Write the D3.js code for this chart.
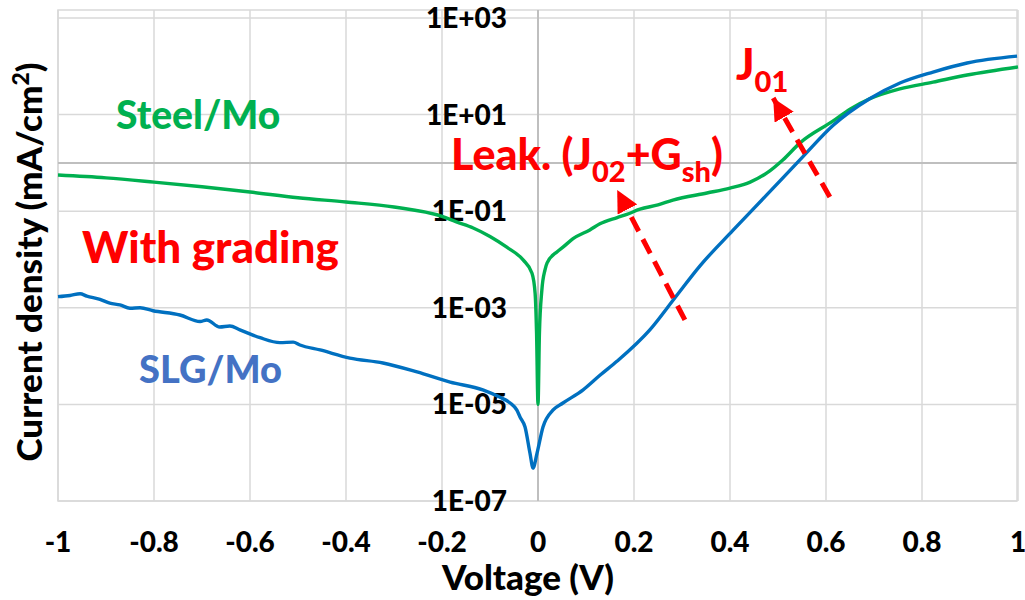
<!DOCTYPE html>
<html>
<head>
<meta charset="utf-8">
<script src="https://cdn.jsdelivr.net/npm/d3@7"></script>
<style>
  html, body { margin: 0; padding: 0; background: #fff; }
  svg { display: block; font-family: Lato, "Open Sans", sans-serif; font-weight: 900; }
</style>
</head>
<body>
<svg id="chart" width="1025" height="600"></svg>
<script>
// Dark J–V curves (log |J|) for the two substrates
const steelV = [-1, -0.9, -0.8, -0.7, -0.6, -0.5, -0.4, -0.3, -0.2, -0.17, -0.135, -0.1, -0.065, -0.031, -0.0125, -0.006, -0.003, 0,
  0.003, 0.008, 0.0146, 0.019, 0.04, 0.052, 0.073, 0.108, 0.129, 0.165, 0.185, 0.2125, 0.25, 0.281, 0.352, 0.4, 0.442, 0.477, 0.51, 0.546, 0.615, 0.65, 0.69, 0.754, 0.823, 0.894, 1.0];
const steelJ = [0.56, 0.49, 0.40, 0.32, 0.25, 0.19, 0.155, 0.122, 0.078, 0.060, 0.045, 0.030, 0.018, 0.0098, 0.0052, 0.002, 3e-4, 1e-5,
  3e-4, 0.0023, 0.0061, 0.0085, 0.0145, 0.018, 0.027, 0.041, 0.055, 0.074, 0.086, 0.11, 0.135, 0.17, 0.238, 0.30, 0.40, 0.62, 1.15, 2.6, 7.4, 13, 21, 34, 47, 66, 97];

const slgV = [-1, -0.975, -0.954, -0.94, -0.9125, -0.892, -0.871, -0.85, -0.829, -0.802, -0.746, -0.704, -0.69, -0.663, -0.642, -0.621,
  -0.579, -0.5375, -0.51, -0.496, -0.454, -0.392, -0.323, -0.252, -0.183, -0.115, -0.079, -0.058, -0.044, -0.0375, -0.027, -0.0167,
  -0.0104, -0.002, 0.0104, 0.031, 0.052, 0.094, 0.129, 0.165, 0.233, 0.285, 0.3375, 0.406, 0.477, 0.552, 0.615, 0.69, 0.754, 0.823, 0.894, 0.998];
const slgJ = [1.7e-3, 1.8e-3, 1.95e-3, 1.75e-3, 1.5e-3, 1.25e-3, 1.15e-3, 9.8e-4, 1.0e-3, 8.7e-4, 7.1e-4, 5.2e-4, 5.6e-4, 4.0e-4, 4.2e-4, 3.5e-4,
  2.4e-4, 1.9e-4, 1.95e-4, 1.7e-4, 1.34e-4, 9.1e-5, 7.2e-5, 4.7e-5, 2.9e-5, 2.0e-5, 1.4e-5, 1.07e-5, 7.6e-6, 5.5e-6, 3.4e-6, 9.8e-7,
  4.8e-7, 9.8e-7, 3.4e-6, 7.6e-6, 1.07e-5, 2.0e-5, 4.0e-5, 7.9e-5, 3.5e-4, 1.6e-3, 7.4e-3, 0.040, 0.22, 1.35, 6.0, 21, 45, 76, 117, 162];

const xTicks = [-1, -0.8, -0.6, -0.4, -0.2, 0, 0.2, 0.4, 0.6, 0.8, 1];
const yTicks = [1e3, 1e1, 1e-1, 1e-3, 1e-5, 1e-7];
const yTickLabels = ["1E+03", "1E+01", "1E-01", "1E-03", "1E-05", "1E-07"];

const svg = d3.select("#chart");
const x = d3.scaleLinear().domain([-1, 1]).range([58, 1018]);
const y = d3.scaleLog().domain([1e-7, 1e3]).range([501, 18]);

const GRID = "#d9d9d9", AXIS = "#bfbfbf";
const GREEN = "#00b050", BLUE = "#0070c0", RED = "#ff0000";

// plot frame
svg.append("rect")
  .attr("x", x(-1)).attr("y", 10)
  .attr("width", x(1) - x(-1) - 1).attr("height", y(1e-7) - 10)
  .attr("fill", "none").attr("stroke", GRID).attr("stroke-width", 1.5);

// gridlines
svg.append("g").selectAll("line").data(xTicks).join("line")
  .attr("x1", d => x(d)).attr("x2", d => x(d))
  .attr("y1", 10).attr("y2", y(1e-7))
  .attr("stroke", GRID).attr("stroke-width", 1.5);
svg.append("g").selectAll("line").data(yTicks).join("line")
  .attr("x1", x(-1)).attr("x2", x(1) - 1)
  .attr("y1", d => y(d)).attr("y2", d => y(d))
  .attr("stroke", GRID).attr("stroke-width", 1.5);

// axis lines crossing at V = 0 and J = 1
svg.append("line").attr("x1", x(-1)).attr("x2", x(1) - 1)
  .attr("y1", y(1)).attr("y2", y(1)).attr("stroke", AXIS).attr("stroke-width", 2);
svg.append("line").attr("x1", x(0)).attr("x2", x(0))
  .attr("y1", 10).attr("y2", y(1e-7)).attr("stroke", AXIS).attr("stroke-width", 2);

// tick labels
svg.append("g").selectAll("text").data(yTicks).join("text")
  .attr("x", x(0) - 31).attr("y", d => y(d)).attr("dy", "0.36em")
  .attr("text-anchor", "end").attr("font-size", 28).attr("fill", "#000")
  .text((d, i) => yTickLabels[i]);
svg.append("g").selectAll("text").data(xTicks).join("text")
  .attr("x", d => x(d)).attr("y", 552)
  .attr("text-anchor", "middle").attr("font-size", 28).attr("fill", "#000")
  .text(d => d3.format("")(d).replace("−", "-"));

// axis titles
svg.append("text").attr("x", 528).attr("y", 590).attr("text-anchor", "middle")
  .attr("font-size", 35).text("Voltage (V)");
const yt = svg.append("text").attr("transform", "translate(42,262) rotate(-90)")
  .attr("text-anchor", "middle").attr("font-size", 35);
yt.append("tspan").text("Current density (mA/cm");
yt.append("tspan").attr("font-size", 23).attr("dy", -13).text("2");
yt.append("tspan").attr("dy", 13).text(")");

// curves
const line = d3.line().x(d => x(d[0])).y(d => y(d[1])).curve(d3.curveMonotoneX);
svg.append("path").datum(d3.zip(steelV, steelJ)).attr("d", line)
  .attr("fill", "none").attr("stroke", GREEN).attr("stroke-width", 3.4).attr("stroke-linejoin", "round");
svg.append("path").datum(d3.zip(slgV, slgJ)).attr("d", line)
  .attr("fill", "none").attr("stroke", BLUE).attr("stroke-width", 3.4).attr("stroke-linejoin", "round");

// dashed arrows marking the leakage and J01 regimes
const defs = svg.append("defs");
defs.append("marker").attr("id", "head").attr("viewBox", "0 0 10 10")
  .attr("refX", 10).attr("refY", 5).attr("markerWidth", 4.4).attr("markerHeight", 4.4)
  .attr("markerUnits", "strokeWidth").attr("orient", "auto")
  .append("path").attr("d", "M0,0 L10,5 L0,10 Z").attr("fill", RED);
const arrows = [
  { from: [0.306, 5.6e-4], to: [0.165, 0.275] },
  { from: [0.608, 0.197], to: [0.49, 22] }
];
arrows.forEach(a => {
  svg.append("line")
    .attr("x1", x(a.from[0])).attr("y1", y(a.from[1]))
    .attr("x2", x(a.to[0])).attr("y2", y(a.to[1]))
    .attr("stroke", RED).attr("stroke-width", 5)
    .attr("stroke-dasharray", "16,9").attr("marker-end", "url(#head)");
});

// annotations
svg.append("text").attr("x", 116).attr("y", 129).attr("font-size", 39).attr("fill", GREEN).text("Steel/Mo");
svg.append("text").attr("x", 82).attr("y", 263).attr("font-size", 44).attr("fill", RED).text("With grading");
svg.append("text").attr("x", 139).attr("y", 383).attr("font-size", 38).attr("fill", "#4472c4").text("SLG/Mo");

const leak = svg.append("text").attr("x", 451).attr("y", 170).attr("font-size", 43).attr("fill", RED);
leak.append("tspan").text("Leak. (J");
leak.append("tspan").attr("font-size", 29).attr("dy", 12).text("02");
leak.append("tspan").attr("dy", -12).text("+G");
leak.append("tspan").attr("font-size", 29).attr("dy", 12).text("sh");
leak.append("tspan").attr("dy", -12).text(")");

const j01 = svg.append("text").attr("x", 736).attr("y", 80).attr("font-size", 43).attr("fill", RED);
j01.append("tspan").text("J");
j01.append("tspan").attr("font-size", 29).attr("dy", 12).text("01");
</script>
</body>
</html>
